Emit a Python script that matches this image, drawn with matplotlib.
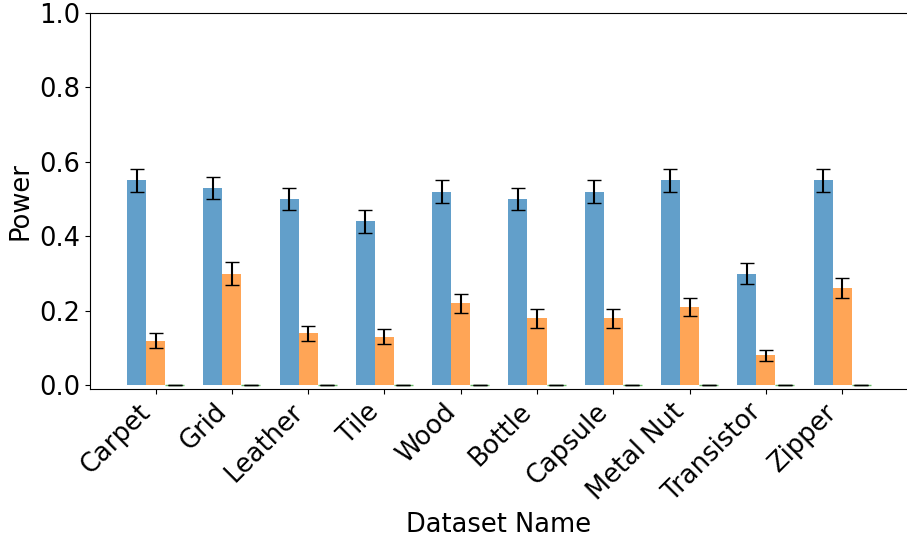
import matplotlib
matplotlib.use("Agg")
import matplotlib.pyplot as plt
import numpy as np

# Dataset names on the x axis
datasets = ['Carpet', 'Grid', 'Leather', 'Tile', 'Wood', 'Bottle',
            'Capsule', 'Metal Nut', 'Transistor', 'Zipper']

# Power values, with error bar half-widths
power_a = [0.55, 0.53, 0.50, 0.44, 0.52, 0.50, 0.52, 0.55, 0.30, 0.55]
err_a = [0.03, 0.03, 0.03, 0.03, 0.03, 0.03, 0.03, 0.03, 0.028, 0.03]
power_b = [0.12, 0.30, 0.14, 0.13, 0.22, 0.18, 0.18, 0.21, 0.08, 0.26]
err_b = [0.02, 0.03, 0.02, 0.02, 0.025, 0.025, 0.025, 0.025, 0.016, 0.027]
power_c = [0.0] * 10
err_c = [0.0] * 10

width = 0.25
x = np.arange(len(datasets))

fig = plt.figure(figsize=(9.07, 5.38), dpi=100)
ax = fig.add_axes([0.099, 0.277, 0.902, 0.699])

ax.bar(x - width, power_a, width, yerr=err_a, capsize=5, alpha=0.7,
       color='tab:blue', ecolor='black')
ax.bar(x, power_b, width, yerr=err_b, capsize=5, alpha=0.7,
       color='tab:orange', ecolor='black')
ax.bar(x + width, power_c, width, yerr=err_c, capsize=5, alpha=0.7,
       color='tab:green', ecolor='black', edgecolor='tab:green', linewidth=1)

ax.set_ylim(-0.01, 1.0)
ax.set_yticks([0.0, 0.2, 0.4, 0.6, 0.8, 1.0])
ax.set_xticks(x)
ax.set_xticklabels(datasets, rotation=45, ha='right')
ax.tick_params(axis='both', labelsize=18.5)
ax.set_xlabel('Dataset Name', fontsize=18.5)
ax.set_ylabel('Power', fontsize=18.5)
# right edge of the box falls off the saved image in the original
ax.spines['right'].set_visible(False)

plt.savefig('out.png', dpi=100)
